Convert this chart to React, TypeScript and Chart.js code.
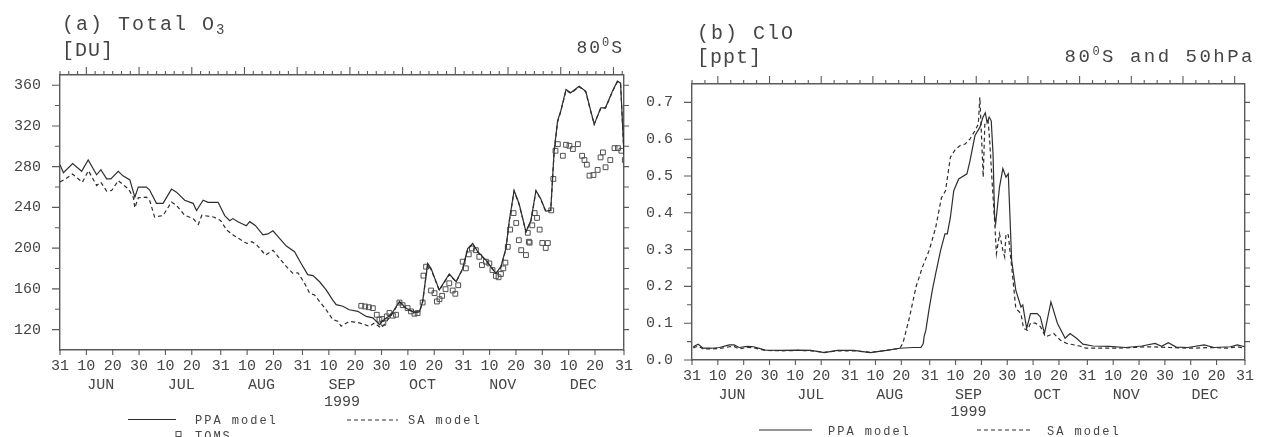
import React, { useEffect, useRef } from "react";
import { Chart, registerables } from "chart.js";

Chart.register(...registerables);

const MONO = '"Liberation Mono", "DejaVu Sans Mono", monospace';
const INK = "#454545";
const AXIS = "#5a5a5a";
const LINE = "#2e2e2e";

// ---- shared time axis: day 0 = 31 May 1999 ----
const dayTicks = [0, 10, 20, 30, 40, 50, 61, 71, 81, 92, 102, 112, 122, 132, 142, 153, 163, 173, 183, 193, 203, 214];
const dayTickLabels = ["31", "10", "20", "30", "10", "20", "31", "10", "20", "31", "10", "20", "30", "10", "20", "31", "10", "20", "30", "10", "20", "31"];
const monthLabels = ["JUN", "JUL", "AUG", "SEP", "OCT", "NOV", "DEC"];
const monthMidDays = [15.5, 46, 76.5, 107, 137.5, 168, 198.5];
const yearText = "1999";

// ---- (a) Total O3 [DU] ----
const o3PpaDays = [0, 1.3, 4.8, 8.2, 10.7, 13.9, 15.5, 17.7, 19.3, 22.1, 23.9, 26.5, 28.4, 29.7, 32.8, 34, 36.6, 39.1, 42.3, 44.2, 47.3, 50.5, 51.8, 54.3, 56.2, 60, 62.5, 64.4, 65.6, 67.5, 70.7, 72, 74.2, 77, 78.9, 80.8, 83.3, 85.9, 89, 91.5, 94, 96, 98.5, 101, 103.5, 104.8, 107.3, 109.8, 113, 116.2, 118.7, 121.2, 123, 125.6, 128.8, 131.3, 134.5, 136.4, 137.6, 139.5, 140.8, 143.9, 147.7, 150.3, 152.8, 154.7, 156.6, 158.5, 161.6, 165.4, 167.3, 169.2, 170.5, 172.3, 174.2, 176.8, 178.7, 180.6, 182.4, 184.3, 186.2, 187.5, 188.8, 190, 192, 193.8, 197, 199.5, 201.4, 202.7, 205.2, 207, 209.6, 211.5, 212.7, 214];
const o3Ppa = [282, 274, 283, 275.5, 286.5, 272, 277, 268, 268, 275.5, 271, 267, 250, 260, 260, 257, 244, 244, 258, 255, 247, 244, 237, 247, 245, 245, 232, 227, 229, 226, 222, 226, 222, 213, 214, 217, 209.5, 202, 196.5, 185, 174, 173, 167, 159, 149, 144.5, 143, 139.5, 138, 133, 131.5, 125, 130, 134.6, 147.6, 141, 137, 137.6, 147.6, 185, 180, 159, 174.6, 167, 180, 199.7, 204.6, 196.5, 188.3, 175.3, 181.8, 199.7, 227.3, 256.6, 243.6, 216, 227.3, 256.6, 248.5, 236.4, 237, 295.6, 324.9, 334.6, 355.8, 352.5, 359, 354, 334.6, 321.7, 337.8, 338, 354, 363.9, 362, 292];
const o3SaDays = [0, 2.1, 4.7, 8.5, 10.8, 13.9, 15.5, 17.7, 19.6, 22.1, 26, 27.8, 28.4, 29.7, 32.8, 34, 35.9, 39.1, 42.3, 44.2, 47.3, 50.5, 52.5, 53.8, 58.3, 60.9, 63.3, 65.8, 70.9, 72.8, 74.7, 78, 80.8, 83.3, 85.9, 88.4, 90.3, 92.8, 94.7, 96.6, 98.5, 101, 103.5, 105.4, 106.7, 109.8, 113.6, 117.4, 119.3, 121.8, 123, 125.6, 128.8, 131.3, 134.5, 136.4, 137.6, 139.5, 140.8, 143.9, 147.7, 150.3, 152.8, 154.7, 156.6, 158.5, 161.6, 165.4, 167.3, 169.2, 170.5, 172.3, 174.2, 176.8, 178.7, 180.6, 182.4, 184.3, 186.2, 187.5, 188.8, 190, 192, 193.8, 197, 199.5, 201.4, 202.7, 205.2, 207, 209.6, 211.5, 212.7, 214];
const o3Sa = [265, 268, 272.8, 264.7, 276, 261.5, 264.7, 256, 256.6, 266.3, 258, 250, 239.6, 249.5, 250, 247, 230.6, 232, 245.3, 242, 232.3, 229, 223.4, 232.3, 230.6, 227.3, 217.6, 212.7, 204.6, 206.3, 203, 193.2, 198, 190, 181.8, 175.3, 175.8, 165.5, 155.8, 154, 147.6, 139.5, 129.8, 128.2, 123.3, 128.2, 126.6, 123.3, 126.6, 121.6, 125, 134, 147, 141, 136.5, 137.5, 147, 184, 179, 158.5, 174, 167, 179.5, 199, 204, 196, 188, 175, 181.5, 199, 227, 256, 243, 216, 227, 256, 248, 236, 237, 295, 324, 334, 355, 352, 358.5, 353.5, 334, 321.5, 337.5, 337.5, 353.5, 363.5, 361.5, 292];
const tomsDays = [114.3, 115.8, 117.2, 118.7, 120.2, 121.2, 122.2, 122.7, 124, 125, 126.3, 127.5, 128.8, 130, 131.9, 133.2, 134.5, 135.7, 137.6, 137.9, 138.9, 140.8, 142.1, 143, 144, 145, 146.3, 147.7, 149, 150, 151.1, 152.8, 154, 155.1, 156.3, 157.8, 159.1, 160.1, 161.6, 162.9, 164.1, 165.4, 166.4, 167.3, 168.2, 169, 169.9, 170.8, 172.1, 173.1, 174.1, 175, 176.8, 177.5, 177.9, 178.2, 179.2, 180.1, 181, 182, 183, 184.3, 185.1, 186.4, 187.2, 188, 188.9, 190.8, 192, 193.3, 194.6, 196.5, 198.1, 199, 199.9, 200.9, 202.4, 204, 205.1, 206, 207, 208.8, 210.4, 211.7, 213, 214.3];
const toms = [143.4, 142.7, 142, 141.1, 134.6, 129.8, 130.4, 126.6, 133, 136.3, 133.7, 134.6, 146.6, 144, 141.1, 137.9, 135.6, 136.3, 146.6, 173, 181.8, 158.4, 155.8, 147.6, 149.9, 153.2, 159.7, 165.5, 158.4, 155.2, 163.6, 186.7, 180.2, 193.9, 199.7, 198, 191.5, 183.4, 186.7, 185, 178.5, 172.7, 171.4, 174.6, 180.2, 185.8, 201.3, 218.2, 234.4, 224.7, 207.8, 198, 193.2, 215.1, 206.3, 205.4, 222.4, 234.4, 229.7, 218.2, 205.1, 200.2, 205, 237.1, 268, 295.6, 302.1, 290.7, 301.5, 300.5, 297.3, 302.1, 290.7, 286.5, 282, 271.2, 271.8, 276.8, 289.1, 294, 279.4, 286.5, 298.2, 298.2, 295.6, 286.5];
const o3TickValues = [120, 160, 200, 240, 280, 320, 360];
const o3TickLabels = ["120", "160", "200", "240", "280", "320", "360"];
const o3MinorTicks = [140, 180, 220, 260, 300, 340];
const o3RightTicks = [120, 140, 160, 180, 200, 220, 240, 260, 280, 300, 320, 340, 360];

// ---- (b) ClO [ppt] at 80S, 50 hPa ----
const cloPpaDays = [0.5, 2.4, 4.3, 7.5, 10.6, 14.4, 16.3, 18.2, 21.4, 23.9, 28.4, 34.7, 41.1, 46.1, 51.2, 56.3, 62.6, 69, 75.3, 80.4, 85.5, 88.6, 89.5, 89.8, 90.5, 91.7, 93, 94.3, 96.2, 97.9, 98.8, 100, 101.3, 103.2, 106.4, 107.6, 109.5, 111.4, 112.6, 113.5, 114.2, 115, 115.8, 116.5, 117.1, 117.5, 119, 120.3, 121.5, 122.4, 123.7, 125.3, 127.3, 128, 129.5, 131, 133.6, 134.8, 136.4, 138.9, 141.4, 144.4, 146.3, 148.8, 151.3, 155.1, 161.5, 167.8, 174.1, 179.2, 181.7, 184.3, 187.4, 191.9, 198.2, 202, 208.4, 211, 214];
const cloPpa = [0.036, 0.043, 0.032, 0.032, 0.034, 0.041, 0.041, 0.034, 0.037, 0.036, 0.027, 0.026, 0.027, 0.026, 0.02, 0.026, 0.026, 0.02, 0.026, 0.032, 0.034, 0.034, 0.045, 0.063, 0.081, 0.136, 0.19, 0.235, 0.298, 0.343, 0.343, 0.388, 0.46, 0.492, 0.506, 0.542, 0.61, 0.632, 0.66, 0.672, 0.645, 0.66, 0.65, 0.56, 0.388, 0.37, 0.47, 0.52, 0.497, 0.506, 0.271, 0.19, 0.144, 0.15, 0.086, 0.126, 0.126, 0.117, 0.072, 0.158, 0.1, 0.059, 0.072, 0.059, 0.043, 0.038, 0.037, 0.034, 0.038, 0.045, 0.037, 0.047, 0.035, 0.034, 0.041, 0.034, 0.036, 0.041, 0.036];
const cloSaDays = [0.5, 2.4, 4.3, 7.5, 10.6, 14.4, 16.3, 18.2, 21.4, 23.9, 28.4, 34.7, 41.1, 46.1, 51.2, 56.3, 62.6, 69, 75.3, 80.4, 81.6, 82.9, 84.2, 86.7, 89.2, 91.8, 94.3, 96.5, 98.1, 100, 101.9, 103.8, 105.7, 107.6, 109.5, 110.8, 111.4, 112.7, 113.3, 114.6, 115.2, 116.1, 117.1, 117.8, 119, 120.3, 121, 121.5, 122.4, 124.1, 125.3, 127.3, 128.3, 129.8, 131, 132.9, 134.9, 136.8, 140, 142.5, 145, 150, 152.5, 157.6, 165, 176.6, 185, 193, 201, 207, 211, 214];
const cloSa = [0.033, 0.038, 0.03, 0.03, 0.031, 0.036, 0.037, 0.03, 0.034, 0.033, 0.026, 0.025, 0.026, 0.025, 0.021, 0.025, 0.025, 0.021, 0.026, 0.032, 0.045, 0.081, 0.117, 0.199, 0.253, 0.298, 0.36, 0.44, 0.46, 0.551, 0.572, 0.583, 0.587, 0.601, 0.623, 0.641, 0.714, 0.497, 0.64, 0.65, 0.596, 0.488, 0.379, 0.289, 0.343, 0.298, 0.28, 0.343, 0.34, 0.226, 0.14, 0.126, 0.086, 0.081, 0.1, 0.1, 0.09, 0.063, 0.072, 0.054, 0.045, 0.038, 0.032, 0.032, 0.032, 0.036, 0.034, 0.032, 0.034, 0.032, 0.036, 0.032];
const cloTickValues = [0, 0.1, 0.2, 0.3, 0.4, 0.5, 0.6, 0.7];
const cloTickLabels = ["0.0", "0.1", "0.2", "0.3", "0.4", "0.5", "0.6", "0.7"];
const cloMinorTicks = [0.05, 0.15, 0.25, 0.35, 0.45, 0.55, 0.65];
const cloRightTicks = [0.05, 0.1, 0.15, 0.2, 0.25, 0.3, 0.35, 0.4, 0.45, 0.5, 0.55, 0.6, 0.65, 0.7];

const pairs = (xs: number[], ys: number[]) => xs.map((x, i) => ({ x, y: ys[i] }));

type Part = { t: string; size: number; dy?: number };
type TextBlock = { parts: Part[]; x: number; y: number; align: "left" | "right"; spacing: number };
type LegendItem = { index: number; x0: number; x1: number; y: number; tx: number; ty: number };
type Decor = {
  topStep: number;
  topMajorMod: number;
  topMajorRem: number;
  leftMajor: number[];
  leftMinor: number[];
  rightTicks: number[];
  texts: TextBlock[];
  legend: LegendItem[];
};

function drawParts(ctx: CanvasRenderingContext2D, b: TextBlock) {
  const c: any = ctx;
  const widths = b.parts.map((p) => {
    ctx.font = `${p.size}px ${MONO}`;
    c.letterSpacing = `${b.spacing}px`;
    return ctx.measureText(p.t).width;
  });
  const total = widths.reduce((a, w) => a + w, 0);
  let cx = b.align === "right" ? b.x - total : b.x;
  b.parts.forEach((p, i) => {
    ctx.font = `${p.size}px ${MONO}`;
    c.letterSpacing = `${b.spacing}px`;
    ctx.fillText(p.t, cx, b.y + (p.dy || 0));
    cx += widths[i];
  });
  c.letterSpacing = "0px";
}

function decorPlugin(d: Decor) {
  return {
    id: "decor",
    afterDraw(chart: any) {
      const { ctx, chartArea: a, scales } = chart;
      const x = scales.x;
      const y = scales.y;
      ctx.save();
      ctx.strokeStyle = AXIS;
      ctx.lineWidth = 1.1;
      ctx.beginPath();
      const seg = (x0: number, y0: number, x1: number, y1: number) => {
        ctx.moveTo(x0, y0);
        ctx.lineTo(x1, y1);
      };
      dayTicks.forEach((v) => {
        const px = x.getPixelForValue(v);
        seg(px, a.bottom, px, a.bottom + 5);
      });
      for (let k = 0; k * d.topStep <= x.max + 1e-6; k++) {
        const px = x.getPixelForValue(k * d.topStep);
        const len = k % d.topMajorMod === d.topMajorRem ? 8 : 4;
        seg(px, a.top, px, a.top - len);
      }
      d.leftMajor.forEach((v) => {
        const py = y.getPixelForValue(v);
        seg(a.left - 8, py, a.left, py);
      });
      d.leftMinor.forEach((v) => {
        const py = y.getPixelForValue(v);
        seg(a.left - 5, py, a.left, py);
      });
      d.rightTicks.forEach((v) => {
        const py = y.getPixelForValue(v);
        seg(a.right, py, a.right + 5, py);
      });
      ctx.stroke();

      ctx.fillStyle = INK;
      ctx.font = `15px ${MONO}`;
      ctx.textAlign = "center";
      ctx.textBaseline = "middle";
      monthLabels.forEach((m, i) => ctx.fillText(m, x.getPixelForValue(monthMidDays[i]), a.bottom + 35));
      ctx.fillText(yearText, x.getPixelForValue(monthMidDays[3]), a.bottom + 52);

      ctx.textAlign = "left";
      ctx.textBaseline = "alphabetic";
      d.texts.forEach((t) => drawParts(ctx, t));

      d.legend.forEach((it) => {
        const ds = chart.data.datasets[it.index];
        ctx.save();
        if (ds.showLine === false) {
          ctx.strokeStyle = ds.pointBorderColor;
          ctx.lineWidth = 1;
          ctx.strokeRect(it.x0 - 2.5, it.y - 2.5, 5, 5);
        } else {
          ctx.strokeStyle = ds.borderColor;
          ctx.lineWidth = ds.borderWidth;
          ctx.setLineDash(ds.borderDash || []);
          ctx.beginPath();
          ctx.moveTo(it.x0, it.y);
          ctx.lineTo(it.x1, it.y);
          ctx.stroke();
        }
        ctx.restore();
        drawParts(ctx, { parts: [{ t: ds.label, size: 12 }], x: it.tx, y: it.ty, align: "left", spacing: 2 });
      });
      ctx.restore();
    },
  };
}

function axisSet(opts: {
  yMin: number;
  yMax: number;
  yTicks: number[];
  yLabels: string[];
  leftW: number;
  rightW: number;
  topH: number;
  bottomH: number;
}) {
  const font = { family: MONO, size: 15 };
  const border = { display: true, color: AXIS, width: 1.4 };
  const grid = { drawOnChartArea: false, drawTicks: false };
  return {
    x: {
      type: "linear",
      position: "bottom",
      min: 0,
      max: 214,
      afterBuildTicks: (s: any) => {
        s.ticks = dayTicks.map((v) => ({ value: v }));
      },
      afterFit: (s: any) => {
        s.height = opts.bottomH;
      },
      ticks: {
        autoSkip: false,
        maxRotation: 0,
        minRotation: 0,
        padding: 7,
        color: INK,
        font,
        callback: (_v: any, i: number) => dayTickLabels[i],
      },
      grid,
      border,
    },
    x2: {
      type: "linear",
      position: "top",
      min: 0,
      max: 214,
      ticks: { display: false },
      grid,
      border,
      afterFit: (s: any) => {
        s.height = opts.topH;
      },
    },
    y: {
      type: "linear",
      position: "left",
      min: opts.yMin,
      max: opts.yMax,
      afterBuildTicks: (s: any) => {
        s.ticks = opts.yTicks.map((v) => ({ value: v }));
      },
      afterFit: (s: any) => {
        s.width = opts.leftW;
      },
      ticks: {
        padding: 19,
        color: INK,
        font,
        callback: (_v: any, i: number) => opts.yLabels[i],
      },
      grid,
      border,
    },
    y2: {
      type: "linear",
      position: "right",
      min: opts.yMin,
      max: opts.yMax,
      ticks: { display: false },
      grid,
      border,
      afterFit: (s: any) => {
        s.width = opts.rightW;
      },
    },
  };
}

function buildOzone(): any {
  return {
    type: "line",
    data: {
      datasets: [
        { label: "PPA model", data: pairs(o3PpaDays, o3Ppa), borderColor: LINE, borderWidth: 1.2, pointRadius: 0, tension: 0 },
        { label: "SA model", data: pairs(o3SaDays, o3Sa), borderColor: LINE, borderWidth: 1.2, borderDash: [4, 3], pointRadius: 0, tension: 0 },
        {
          label: "TOMS",
          data: pairs(tomsDays, toms),
          showLine: false,
          pointStyle: "rect",
          pointRadius: 3.4,
          pointBorderWidth: 1,
          pointBorderColor: "#505050",
          pointBackgroundColor: "rgba(0,0,0,0)",
          borderColor: "#505050",
        },
      ],
    },
    options: {
      responsive: false,
      animation: false,
      events: [],
      layout: { padding: 0 },
      plugins: { legend: { display: false }, tooltip: { enabled: false }, title: { display: false } },
      scales: axisSet({ yMin: 100, yMax: 370, yTicks: o3TickValues, yLabels: o3TickLabels, leftW: 60, rightW: 15, topH: 75, bottomH: 87 }),
    },
    plugins: [
      decorPlugin({
        topStep: 10 / 3,
        topMajorMod: 6,
        topMajorRem: 3,
        leftMajor: o3TickValues,
        leftMinor: o3MinorTicks,
        rightTicks: o3RightTicks,
        texts: [
          { parts: [{ t: "(a) Total O", size: 20 }, { t: "3", size: 14, dy: 4 }], x: 62, y: 30, align: "left", spacing: 2 },
          { parts: [{ t: "[DU]", size: 20 }], x: 62, y: 56, align: "left", spacing: 1 },
          { parts: [{ t: "80", size: 18 }, { t: "0", size: 12, dy: -7 }, { t: "S", size: 18 }], x: 624, y: 53, align: "right", spacing: 2 },
        ],
        legend: [
          { index: 0, x0: 128, x1: 176, y: 419.5, tx: 195, ty: 424 },
          { index: 1, x0: 347, x1: 398, y: 420, tx: 408, ty: 424 },
          { index: 2, x0: 178.5, x1: 178.5, y: 434, tx: 195, ty: 440 },
        ],
      }),
    ],
  };
}

function buildClo(): any {
  return {
    type: "line",
    data: {
      datasets: [
        { label: "PPA model", data: pairs(cloPpaDays, cloPpa), borderColor: LINE, borderWidth: 1.2, pointRadius: 0, tension: 0 },
        { label: "SA model", data: pairs(cloSaDays, cloSa), borderColor: LINE, borderWidth: 1.2, borderDash: [4, 3], pointRadius: 0, tension: 0 },
      ],
    },
    options: {
      responsive: false,
      animation: false,
      events: [],
      layout: { padding: 0 },
      plugins: { legend: { display: false }, tooltip: { enabled: false }, title: { display: false } },
      scales: axisSet({ yMin: 0, yMax: 0.75, yTicks: cloTickValues, yLabels: cloTickLabels, leftW: 52, rightW: 6, topH: 84, bottomH: 77 }),
    },
    plugins: [
      decorPlugin({
        topStep: 5,
        topMajorMod: 4,
        topMajorRem: 2,
        leftMajor: cloTickValues,
        leftMinor: cloMinorTicks,
        rightTicks: cloRightTicks,
        texts: [
          { parts: [{ t: "(b) ClO", size: 20 }], x: 57, y: 39, align: "left", spacing: 2 },
          { parts: [{ t: "[ppt]", size: 20 }], x: 57, y: 63, align: "left", spacing: 1 },
          {
            parts: [{ t: "80", size: 19 }, { t: "0", size: 12, dy: -7 }, { t: "S and 50hPa", size: 19 }],
            x: 615,
            y: 62,
            align: "right",
            spacing: 2.5,
          },
        ],
        legend: [
          { index: 0, x0: 119, x1: 172, y: 430, tx: 188, ty: 434.5 },
          { index: 1, x0: 337, x1: 390, y: 430, tx: 407, ty: 434.5 },
        ],
      }),
    ],
  };
}

function Panel({ left, width, build }: { left: number; width: number; build: () => any }) {
  const ref = useRef<HTMLCanvasElement>(null);
  useEffect(() => {
    const chart = new Chart(ref.current as HTMLCanvasElement, build());
    return () => chart.destroy();
  }, []);
  return (
    <canvas
      ref={ref}
      width={width}
      height={437}
      style={{ position: "absolute", left, top: 0, width, height: 437 }}
    />
  );
}

export default function App() {
  return (
    <div style={{ position: "fixed", left: 0, top: 0, width: 1261, height: 437, background: "#fff", overflow: "hidden" }}>
      <Panel left={0} width={640} build={buildOzone} />
      <Panel left={640} width={621} build={buildClo} />
    </div>
  );
}
